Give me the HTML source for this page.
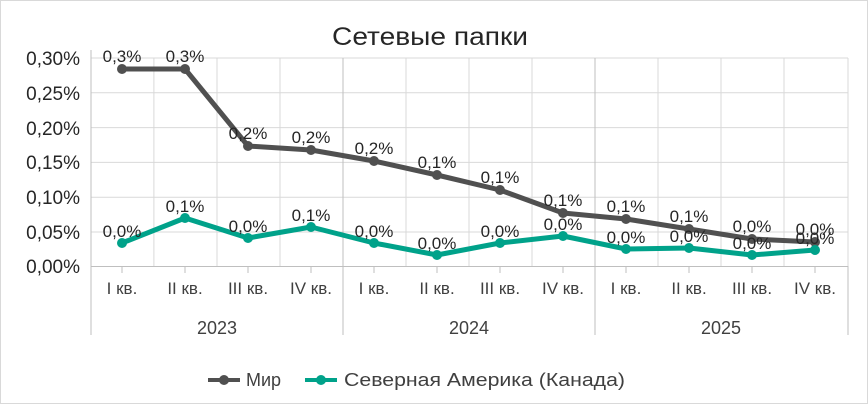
<!DOCTYPE html>
<html><head><meta charset="utf-8"><style>
html,body{margin:0;padding:0;background:#fff}
svg text{font-family:"Liberation Sans",sans-serif}
</style></head><body>
<svg width="868" height="404" xmlns="http://www.w3.org/2000/svg">
<rect x="0.5" y="0.5" width="867" height="403" fill="#fff" stroke="#d9d9d9"/>
<text x="430" y="45" font-size="25" text-anchor="middle" fill="#262626" textLength="196" lengthAdjust="spacingAndGlyphs">Сетевые папки</text>
<g stroke="#d9d9d9" stroke-width="1">
<line x1="91" y1="58" x2="848" y2="58"/>
<line x1="91" y1="92.8" x2="848" y2="92.8"/>
<line x1="91" y1="127.6" x2="848" y2="127.6"/>
<line x1="91" y1="162.4" x2="848" y2="162.4"/>
<line x1="91" y1="197.2" x2="848" y2="197.2"/>
<line x1="91" y1="232" x2="848" y2="232"/>
<line x1="153.9" y1="58" x2="153.9" y2="266"/>
<line x1="217" y1="58" x2="217" y2="266"/>
<line x1="280" y1="58" x2="280" y2="266"/>
<line x1="406" y1="58" x2="406" y2="266"/>
<line x1="469" y1="58" x2="469" y2="266"/>
<line x1="532" y1="58" x2="532" y2="266"/>
<line x1="658" y1="58" x2="658" y2="266"/>
<line x1="721" y1="58" x2="721" y2="266"/>
<line x1="784" y1="58" x2="784" y2="266"/>
<line x1="848" y1="58" x2="848" y2="266"/>
</g>
<g stroke="#bfbfbf" stroke-width="1">
<line x1="91" y1="266.5" x2="848" y2="266.5"/>
<line x1="91" y1="50" x2="91" y2="335"/>
<line x1="343" y1="58" x2="343" y2="335"/>
<line x1="595" y1="58" x2="595" y2="335"/>
<line x1="848" y1="266" x2="848" y2="335"/>
<g>
<line x1="122" y1="266" x2="122" y2="273"/><line x1="185" y1="266" x2="185" y2="273"/><line x1="248" y1="266" x2="248" y2="273"/><line x1="311" y1="266" x2="311" y2="273"/>
<line x1="374" y1="266" x2="374" y2="273"/><line x1="437" y1="266" x2="437" y2="273"/><line x1="500" y1="266" x2="500" y2="273"/><line x1="563" y1="266" x2="563" y2="273"/>
<line x1="626" y1="266" x2="626" y2="273"/><line x1="689" y1="266" x2="689" y2="273"/><line x1="752" y1="266" x2="752" y2="273"/><line x1="815" y1="266" x2="815" y2="273"/>
</g></g>
<g font-size="19" fill="#262626" text-anchor="end">
<text x="80" y="65">0,30%</text><text x="80" y="100">0,25%</text><text x="80" y="135">0,20%</text>
<text x="80" y="169">0,15%</text><text x="80" y="204">0,10%</text><text x="80" y="239">0,05%</text><text x="80" y="273">0,00%</text>
</g>
<g font-size="17" fill="#404040" text-anchor="middle">
<text x="122" y="294">I кв.</text><text x="185" y="294">II кв.</text><text x="248" y="294">III кв.</text><text x="311" y="294">IV кв.</text>
<text x="374" y="294">I кв.</text><text x="437" y="294">II кв.</text><text x="500" y="294">III кв.</text><text x="563" y="294">IV кв.</text>
<text x="626" y="294">I кв.</text><text x="689" y="294">II кв.</text><text x="752" y="294">III кв.</text><text x="815" y="294">IV кв.</text>
<text x="217" y="334" font-size="18">2023</text><text x="469" y="334" font-size="18">2024</text><text x="721" y="334" font-size="18">2025</text>
</g>
<polyline fill="none" stroke="#505050" stroke-width="5" stroke-linejoin="round" points="122,69 185,69 248,146 311,150 374,161 437,175 500,190 563,213 626,219 689,229 752,239 815,242"/>
<g fill="#505050"><circle cx="122" cy="69" r="5"/><circle cx="185" cy="69" r="5"/><circle cx="248" cy="146" r="5"/><circle cx="311" cy="150" r="5"/><circle cx="374" cy="161" r="5"/><circle cx="437" cy="175" r="5"/><circle cx="500" cy="190" r="5"/><circle cx="563" cy="213" r="5"/><circle cx="626" cy="219" r="5"/><circle cx="689" cy="229" r="5"/><circle cx="752" cy="239" r="5"/><circle cx="815" cy="242" r="5"/></g>
<polyline fill="none" stroke="#00a28a" stroke-width="5" stroke-linejoin="round" points="122,243 185,218 248,238 311,227 374,243 437,255 500,243 563,236 626,249 689,248 752,255 815,250"/>
<g fill="#00a28a"><circle cx="122" cy="243" r="5"/><circle cx="185" cy="218" r="5"/><circle cx="248" cy="238" r="5"/><circle cx="311" cy="227" r="5"/><circle cx="374" cy="243" r="5"/><circle cx="437" cy="255" r="5"/><circle cx="500" cy="243" r="5"/><circle cx="563" cy="236" r="5"/><circle cx="626" cy="249" r="5"/><circle cx="689" cy="248" r="5"/><circle cx="752" cy="255" r="5"/><circle cx="815" cy="250" r="5"/></g>
<g font-size="17" fill="#262626" text-anchor="middle">
<text x="122" y="62">0,3%</text><text x="185" y="62">0,3%</text><text x="248" y="139">0,2%</text><text x="311" y="143">0,2%</text>
<text x="374" y="154">0,2%</text><text x="437" y="168">0,1%</text><text x="500" y="183">0,1%</text><text x="563" y="206">0,1%</text>
<text x="626" y="212">0,1%</text><text x="689" y="222">0,1%</text><text x="752" y="232">0,0%</text><text x="815" y="235">0,0%</text>
<text x="122" y="237">0,0%</text><text x="185" y="212">0,1%</text><text x="248" y="232">0,0%</text><text x="311" y="221">0,1%</text>
<text x="374" y="237">0,0%</text><text x="437" y="249">0,0%</text><text x="500" y="237">0,0%</text><text x="563" y="230">0,0%</text>
<text x="626" y="243">0,0%</text><text x="689" y="242">0,0%</text><text x="752" y="249">0,0%</text><text x="815" y="244">0,0%</text>
</g>
<g font-size="18" fill="#404040">
<line x1="208" y1="380" x2="240" y2="380" stroke="#505050" stroke-width="4"/><circle cx="224" cy="380" r="5" fill="#505050"/>
<text x="246" y="386">Мир</text>
<line x1="305" y1="380" x2="337" y2="380" stroke="#00a28a" stroke-width="4"/><circle cx="321" cy="380" r="5" fill="#00a28a"/>
<text x="344" y="386" textLength="281" lengthAdjust="spacingAndGlyphs">Северная Америка (Канада)</text>
</g>
</svg>
</body></html>
